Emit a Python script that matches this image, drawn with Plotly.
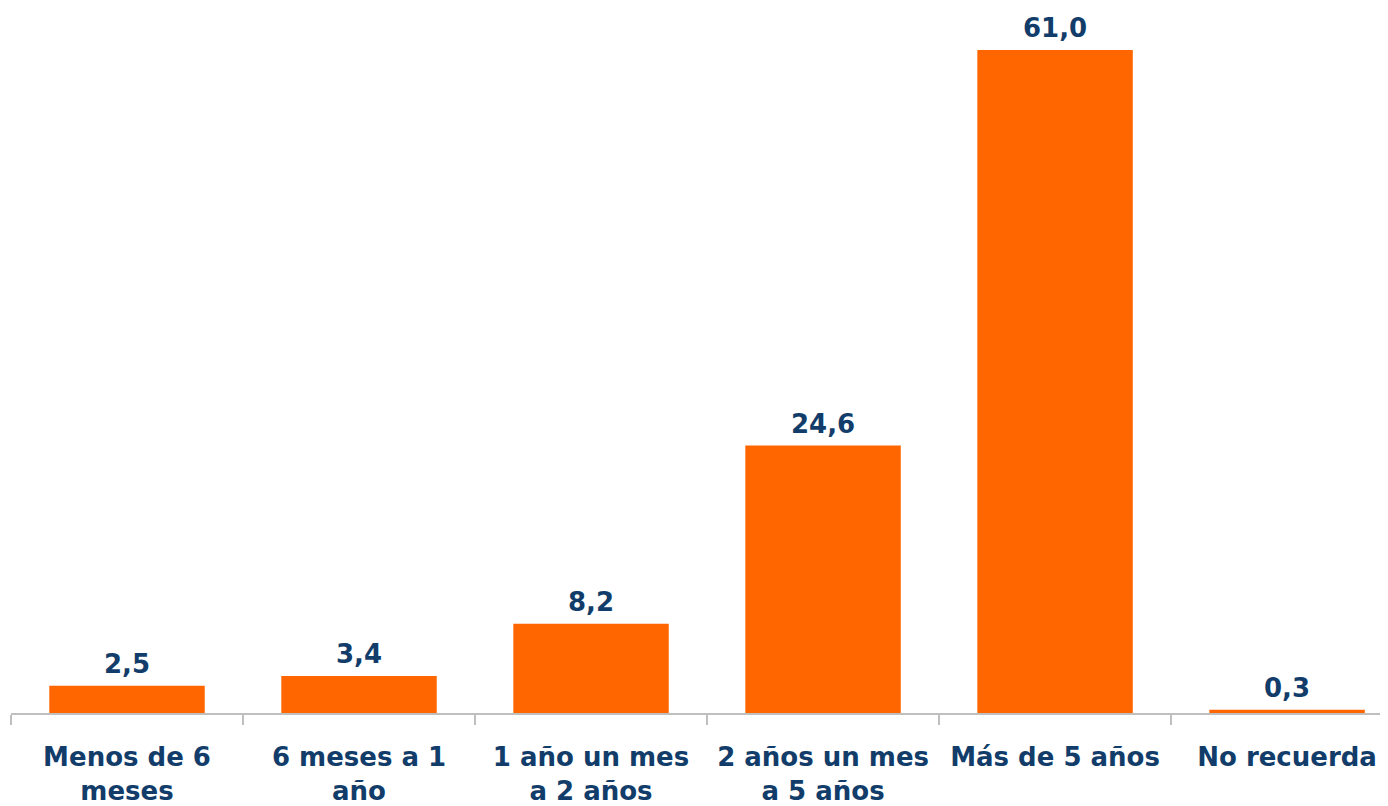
import plotly.graph_objects as go

# Categorías y porcentajes
categorias = [
    "Menos de 6<br>meses",
    "6 meses a 1<br>año",
    "1 año un mes<br>a 2 años",
    "2 años un mes<br>a 5 años",
    "Más de 5 años",
    "No recuerda",
]
valores = [2.5, 3.4, 8.2, 24.6, 61.0, 0.3]
etiquetas = ["2,5", "3,4", "8,2", "24,6", "61,0", "0,3"]

NARANJA = "#FF6600"
AZUL = "#123D6A"
FUENTE = "DejaVu Sans, Verdana, sans-serif"

fig = go.Figure(
    go.Bar(
        x=categorias,
        y=valores,
        marker=dict(color=NARANJA, line=dict(width=0)),
        width=0.67,
        cliponaxis=False,
    )
)

# etiquetas de valor encima de cada barra
for cat, val, txt in zip(categorias, valores, etiquetas):
    fig.add_annotation(
        x=cat, y=val, text=txt,
        showarrow=False, yanchor="bottom", yshift=5,
        font=dict(family=FUENTE, size=26, color=AZUL, weight="bold"),
    )

# la página añade 8 px de margen, así que la figura es algo menor que la ventana
fig.update_layout(
    width=1380,
    height=798,
    margin=dict(l=3, r=0, t=0, b=93),
    paper_bgcolor="white",
    plot_bgcolor="white",
    showlegend=False,
    font=dict(family=FUENTE, color=AZUL),
)

fig.update_xaxes(
    range=[-0.5, 5.435],
    showline=True,
    linecolor="#BFBFBF",
    linewidth=2,
    ticks="outside",
    tickson="boundaries",
    ticklen=10,
    tickcolor="#BFBFBF",
    tickwidth=2,
    tickfont=dict(family=FUENTE, size=26, color=AZUL, weight="bold"),
    ticklabelstandoff=20,
    showgrid=False,
)
fig.update_yaxes(
    range=[0, 64.86],
    visible=False,
    showgrid=False,
    zeroline=False,
)

fig.write_html("out.html")
